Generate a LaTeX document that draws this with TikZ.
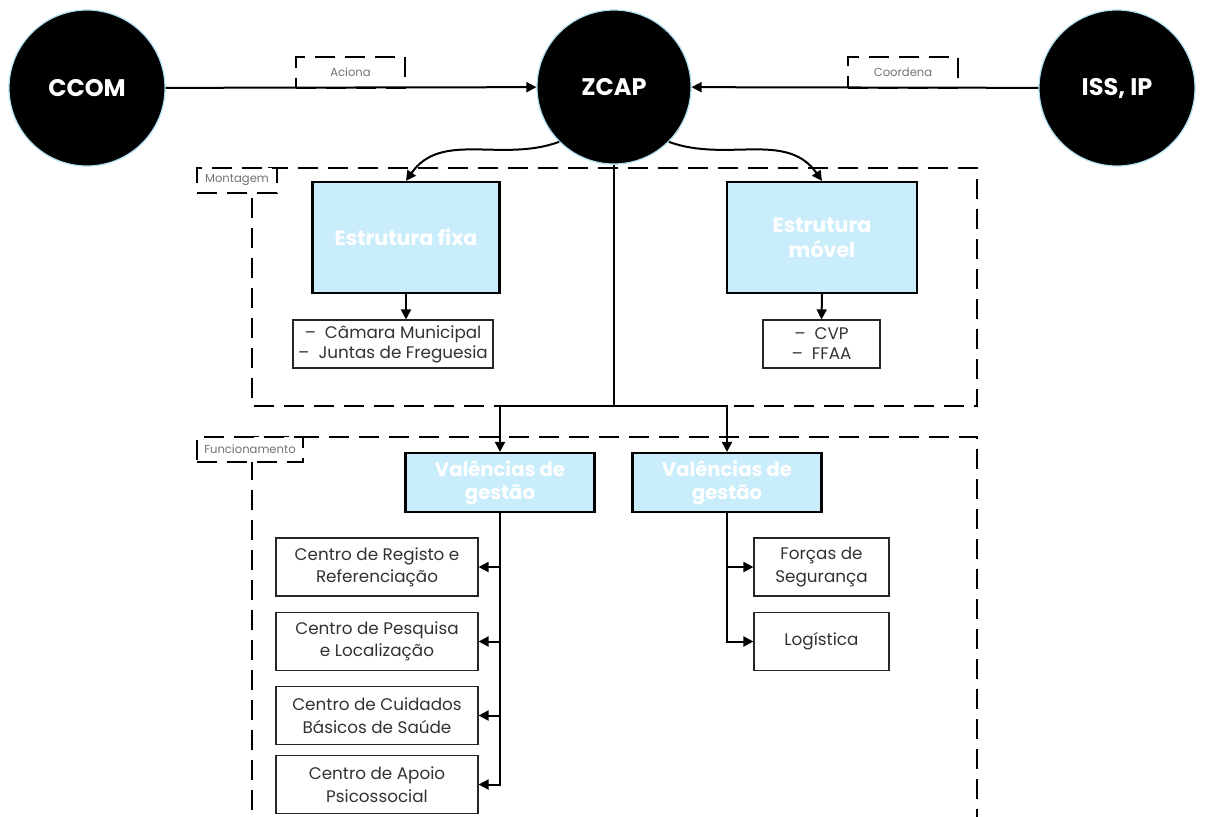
\documentclass[tikz,border=0pt]{standalone}
\usepackage{fontspec}
\setmainfont{Poppins}
\usetikzlibrary{positioning, arrows.meta, calc}

\definecolor{azulclaro}{RGB}{202,237,251}
\definecolor{bordaazul}{RGB}{175,222,240}
\definecolor{textocinza}{RGB}{50,50,50}

\tikzset{
    circulo/.style={circle, fill=black, draw=bordaazul, line width=0.6pt, minimum size=78pt, inner sep=0pt, text=white, font=\bfseries\fontsize{12}{14}\selectfont},
    caixaazul/.style={rectangle, fill=azulclaro, draw=black, line width=1.1pt, text=white, align=center, inner sep=0pt},
    caixa/.style={rectangle, draw=black!85, line width=0.6pt, text=textocinza, align=center, inner sep=0pt, font=\fontsize{8.4}{11.2}\selectfont},
    etiqueta/.style={rectangle, draw=black, fill=white, dash pattern=on 10pt off 5pt, line width=1pt, text=black!55, inner sep=0pt, font=\fontsize{5.8}{6}\selectfont},
    moldura/.style={draw=black, dash pattern=on 10pt off 5pt, line width=1pt},
    seta/.style={-{Triangle[length=5pt, width=5pt]}, line width=1pt},
    linha/.style={line width=1pt}
}

\begin{document}
\begin{tikzpicture}[x=0.5pt, y=-0.5pt]
    \useasboundingbox (0,0) rectangle (1210,816);

    % Molduras tracejadas
    \draw[moldura] (252,168) rectangle (977,406);
    \draw[moldura] (252,840) -- (252,437) -- (977,437) -- (977,840);
    \node[etiqueta, minimum width=40pt, minimum height=12.5pt] (montagem) at (237,180.5) {Montagem};
    \node[etiqueta, minimum width=53pt, minimum height=12.5pt] (funcionamento) at (250,449.5) {Funcionamento};

    % Etiquetas das setas de cima
    \node[etiqueta, minimum width=54.5pt, minimum height=15.5pt] (aciona) at (350.5,72.5) {Aciona};
    \node[etiqueta, minimum width=55pt, minimum height=15.5pt] (coordena) at (903,72.5) {Coordena};

    % Circulos
    \node[circulo] (ccom) at (87,88) {CCOM};
    \node[circulo, minimum size=77pt] (zcap) at (614,87) {ZCAP};
    \node[circulo] (iss) at (1117,88) {ISS, IP};

    \draw[seta] (ccom) -- (zcap);
    \draw[seta] (iss) -- (zcap);

    % Montagem
    \node[caixaazul, minimum width=93.5pt, minimum height=55.5pt, font=\bfseries\fontsize{10.3}{12.5}\selectfont] (fixa) at (406,237.5) {Estrutura fixa};
    \node[caixaazul, minimum width=95pt, minimum height=55.5pt, font=\bfseries\fontsize{10.3}{12.5}\selectfont] (movel) at (822,237.5) {Estrutura\\móvel};

    \node[caixa, minimum width=100pt, minimum height=24pt, font=\fontsize{8.4}{10}\selectfont] (camara) at (393,344) {–\ \ Câmara Municipal\\–\ \ Juntas de Freguesia};
    \node[caixa, minimum width=58.5pt, minimum height=24pt, font=\fontsize{8.4}{10}\selectfont] (cvp) at (821.5,344) {–\ \ CVP\\–\ \ FFAA};

    \draw[seta] (zcap.225) to[out=200, in=55] (fixa.north);
    \draw[seta] (zcap.-45) to[out=-20, in=125] (movel.north);
    \draw[seta] (fixa.south) -- (fixa.south |- camara.north);
    \draw[seta] (movel.south) -- (cvp.north);

    % Funcionamento
    \coordinate (divisao) at (614,406);
    \node[caixaazul, minimum width=94.5pt, minimum height=29.5pt, font=\bfseries\fontsize{9.8}{11.5}\selectfont] (gestao1) at (500,482.5) {Valências de\\gestão};
    \node[caixaazul, minimum width=94.5pt, minimum height=29.5pt, font=\bfseries\fontsize{9.8}{11.5}\selectfont] (gestao2) at (727,482.5) {Valências de\\gestão};

    \draw[linha] (zcap.south) -- (divisao);
    \draw[seta] (divisao) -| (gestao1.north);
    \draw[seta] (divisao) -| (gestao2.north);

    \node[caixa, minimum width=101pt, minimum height=29pt] (registo) at (377,567) {Centro de Registo e\\Referenciação};
    \node[caixa, minimum width=101pt, minimum height=29pt] (pesquisa) at (377,641.5) {Centro de Pesquisa\\e Localização};
    \node[caixa, minimum width=101pt, minimum height=29pt] (cuidados) at (377,715.5) {Centro de Cuidados\\Básicos de Saúde};
    \node[caixa, minimum width=101pt, minimum height=29pt] (apoio) at (377,784.5) {Centro de Apoio\\Psicossocial};

    \node[caixa, minimum width=67.5pt, minimum height=29pt] (forcas) at (821.5,567) {Forças de\\Segurança};
    \node[caixa, minimum width=67.5pt, minimum height=29pt] (logistica) at (821.5,641.5) {Logística};

    \foreach \alvo in {registo, pesquisa, cuidados, apoio}
        \draw[seta] (gestao1.south) |- (\alvo.east);
    \foreach \alvo in {forcas, logistica}
        \draw[seta] (gestao2.south) |- (\alvo.west);
\end{tikzpicture}
\end{document}
